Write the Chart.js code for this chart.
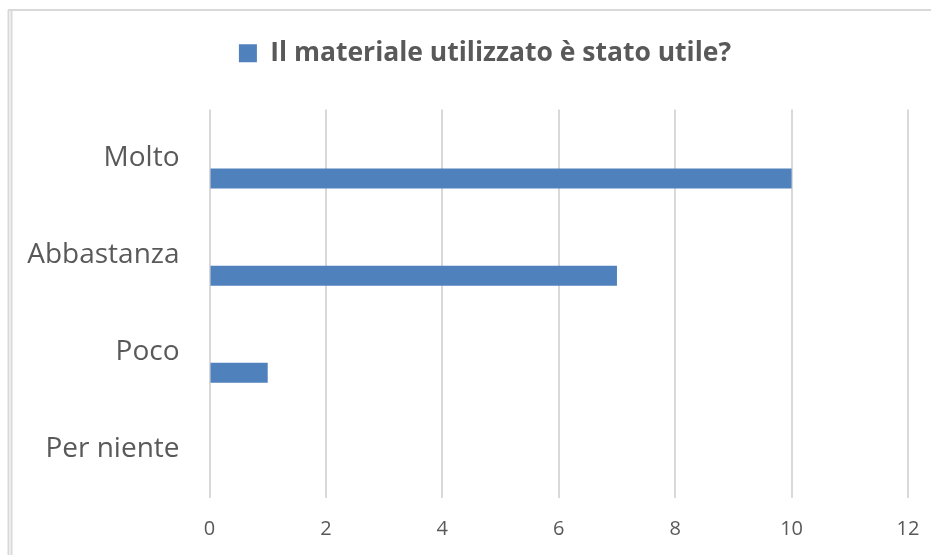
<!DOCTYPE html>
<html><head><meta charset="utf-8">
<script src="https://cdn.jsdelivr.net/npm/chart.js@4/dist/chart.umd.min.js"></script>
<style>html,body{margin:0;padding:0;background:#fff}#wrap{width:931px;height:555px;position:relative}</style>
</head><body><div id="wrap"><canvas id="c" width="931" height="555"></canvas></div>
<script>
const categories = ["Molto", "Abbastanza", "Poco", "Per niente"];
const values = [10, 7, 1, 0];
const seriesName = "Il materiale utilizzato è stato utile?";
const xTicks = [0, 2, 4, 6, 8, 10, 12];

const framePlugin = {
  id: 'frame',
  beforeDraw(chart) {
    const ctx = chart.ctx;
    ctx.save();
    ctx.strokeStyle = '#d9d9d9';
    ctx.lineWidth = 2;
    ctx.beginPath(); ctx.moveTo(8, 10); ctx.lineTo(931, 10); ctx.stroke();
    ctx.beginPath(); ctx.moveTo(8.5, 10); ctx.lineTo(8.5, 555); ctx.stroke();
    ctx.beginPath(); ctx.moveTo(11.5, 10); ctx.lineTo(11.5, 555); ctx.stroke();
    ctx.restore();
  }
};

const legendSpace = {
  id: 'legendSpace',
  beforeUpdate(chart) {
    const lg = chart.legend;
    if (lg && !lg._patched) {
      const f = lg.fit.bind(lg);
      lg.fit = function () { f(); this.height += 33; };
      lg._patched = true;
    }
  },
  afterLayout(chart) {
    const lg = chart.legend;
    if (lg) { lg.left += 31; lg.right += 31; }
  }
};

new Chart(document.getElementById('c'), {
  type: 'bar',
  data: {
    labels: categories,
    datasets: [
      { label: '_empty', data: categories.map(() => null), backgroundColor: '#4f81bd' },
      { label: seriesName, data: values, backgroundColor: '#4f81bd' }
    ]
  },
  options: {
    indexAxis: 'y',
    responsive: false,
    animation: false,
    datasets: { bar: { categoryPercentage: 0.845, barPercentage: 0.488 } },
    layout: { padding: { top: 30, right: 23, left: 0, bottom: 0 } },
    plugins: {
      tooltip: { enabled: false },
      legend: {
        position: 'top',
        labels: {
          filter: (item) => item.text !== '_empty',
          boxWidth: 18, boxHeight: 18, padding: 10,
          color: '#595959',
          font: { family: 'Open Sans', size: 26.5, weight: 'bold' }
        }
      }
    },
    scales: {
      x: {
        min: 0, max: 12,
        afterBuildTicks: (s) => { s.ticks = xTicks.map(v => ({ value: v })); },
        grid: { color: '#d9d9d9', lineWidth: 2, drawTicks: false },
        border: { display: false },
        ticks: { color: '#595959', font: { family: 'Open Sans', size: 20 }, padding: 19 },
        afterFit: (s) => { s.height = 57; s.paddingLeft = 0; s.paddingRight = 0; }
      },
      y: {
        grid: { display: false },
        border: { display: false },
        ticks: { color: '#595959', font: { family: 'Open Sans', size: 28 }, padding: 22 },
        afterFit: (s) => { s.width = 209.5; s.paddingTop = 0; s.paddingBottom = 0; }
      }
    }
  },
  plugins: [framePlugin, legendSpace]
});
</script></body></html>
